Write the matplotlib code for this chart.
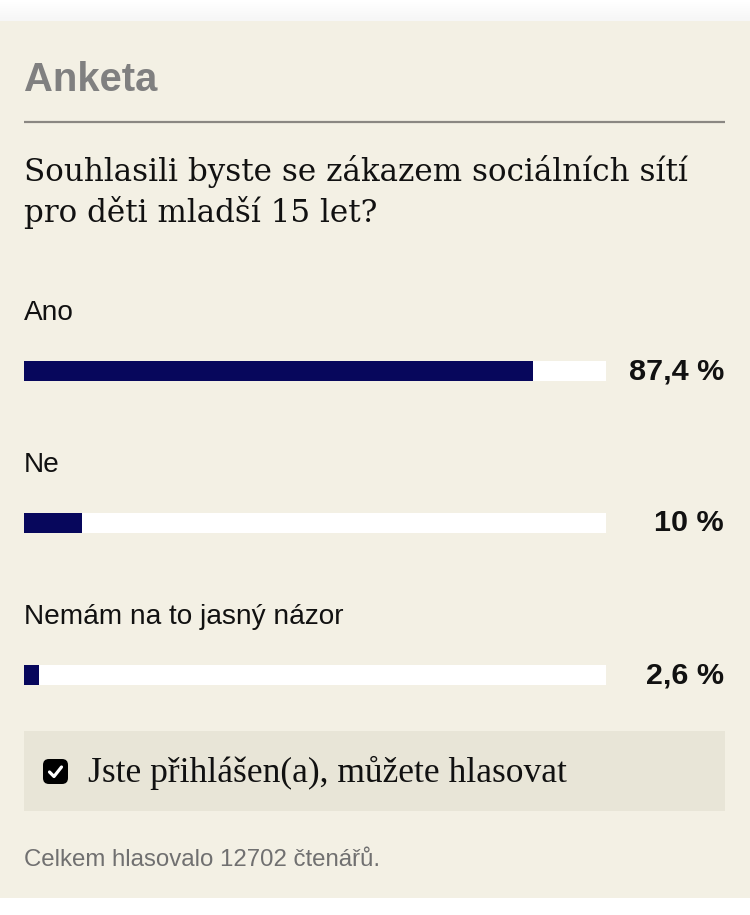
import matplotlib
matplotlib.use("Agg")
import matplotlib.pyplot as plt
from matplotlib.patches import Rectangle, FancyBboxPatch
from matplotlib.transforms import blended_transform_factory

# ---- data ----
title = "Anketa"
question_lines = ["Souhlasili byste se zákazem sociálních sítí", "pro děti mladší 15 let?"]
categories = ["Ano", "Ne", "Nemám na to jasný názor"]
values = [87.4, 10.0, 2.6]
value_labels = ["87,4 %", "10 %", "2,6 %"]
status_text = "Jste přihlášen(a), můžete hlasovat"
footer_text = "Celkem hlasovalo 12702 čtenářů."

# ---- style ----
W, H = 750, 915
DPI = 100
BG = "#F3F0E4"
BOX = "#E8E5D7"
NAVY = "#07075C"
GRAY_TITLE = "#808080"
GRAY_FOOT = "#707070"
SANS = ["Liberation Sans", "DejaVu Sans"]
SERIF = ["DejaVu Serif", "Liberation Serif"]
SERIF2 = ["Liberation Serif", "DejaVu Serif"]

def pt(px):
    return px * 72.0 / DPI

fig = plt.figure(figsize=(W / DPI, H / DPI), dpi=DPI)
fig.patch.set_facecolor("white")

# overlay axes in pixel coordinates (y downward)
ov = fig.add_axes([0, 0, 1, 1])
ov.set_xlim(0, W)
ov.set_ylim(H, 0)
ov.axis("off")
ov.set_zorder(0)

# faint shadow at the top
for j in range(21):
    g = 1.0 - 0.035 * (j / 20.0)
    ov.add_patch(Rectangle((0, j), W, 1, facecolor=(g, g, g), edgecolor="none"))
ov.add_patch(Rectangle((0, 21), W, 898 - 21, facecolor=BG, edgecolor="none"))
ov.text(24, 91, title, fontsize=pt(40), fontweight="bold", color=GRAY_TITLE,
        family=SANS, va="baseline", ha="left")
ov.plot([24, 725], [122, 122], color="#8A8782", lw=pt(2.2), solid_capstyle="butt")
for k, line in enumerate(question_lines):
    ov.text(24, 181 + 41 * k, line, fontsize=pt(31), color="#111111", family=SERIF,
            va="baseline", ha="left")

# status box
ov.add_patch(Rectangle((24, 731), 701, 80, facecolor=BOX, edgecolor="none"))
ov.add_patch(FancyBboxPatch((43, 759), 25, 25, boxstyle="round,pad=0,rounding_size=6",
                            facecolor="black", edgecolor="none"))
ov.plot([49.5, 54, 61.5], [772, 776.5, 767], color="white", lw=pt(3.2),
        solid_capstyle="round", solid_joinstyle="round")
ov.text(88, 782, status_text, fontsize=pt(35.5), color="#111111", family=SERIF2,
        va="baseline", ha="left")
ov.text(24, 866, footer_text, fontsize=pt(24), color=GRAY_FOOT, family=SANS,
        va="baseline", ha="left")

# bar axes: three slots of 152 px from y=295 to y=751
top_px, bot_px = 295, 751
ax = fig.add_axes([24 / W, 1 - bot_px / H, 582 / W, (bot_px - top_px) / H])
ax.set_zorder(1)
ax.patch.set_alpha(0)
ax.set_xlim(0, 100)
n = len(categories)
ax.set_ylim(n - 0.5, -0.5)
ax.axis("off")
slot = (bot_px - top_px) / n
bh = 20 / slot
ypos = list(range(n))
ax.barh(ypos, [100] * n, height=bh, color="white", edgecolor="none")
ax.barh(ypos, values, height=bh, color=NAVY, edgecolor="none")

trx = blended_transform_factory(fig.transFigure, ax.transData)
for i, (cat, lab) in enumerate(zip(categories, value_labels)):
    ax.text(0, i - 58 / slot, cat, fontsize=pt(28), color="#111111", family=SANS,
            va="center", ha="left")
    ax.text(724 / W, i, lab, fontsize=pt(30.5), fontweight="bold", color="#111111",
            family=SANS, va="center", ha="right", transform=trx, clip_on=False)

fig.savefig("out.png", dpi=DPI, facecolor=fig.get_facecolor())
